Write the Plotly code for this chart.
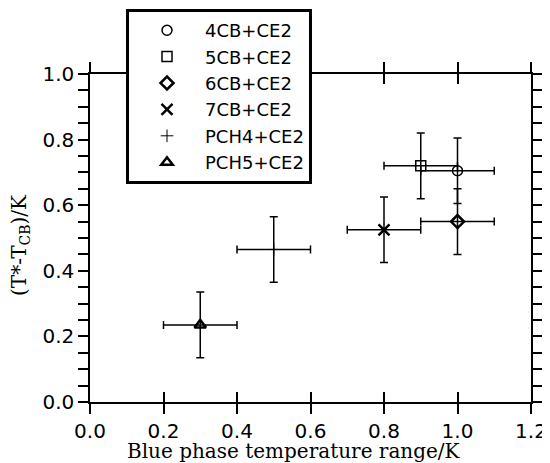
import plotly.graph_objects as go

# ── Data ──────────────────────────────────────────────────────────────────────
mixtures = ["4CB+CE2", "5CB+CE2", "6CB+CE2", "7CB+CE2", "PCH4+CE2", "PCH5+CE2"]
bp_range = [1.0, 0.9, 1.0, 0.8, 0.5, 0.3]          # blue phase temperature range / K
dt_star = [0.705, 0.72, 0.55, 0.525, 0.465, 0.235]  # (T* - Tcb) / K
bp_err = [0.1, 0.1, 0.1, 0.1, 0.1, 0.1]
dt_err = [0.1, 0.1, 0.1, 0.1, 0.1, 0.1]

x_title = "Blue phase temperature range/K"
y_title = "(T*-T<sub>CB</sub>)/K"

# ── Styles ────────────────────────────────────────────────────────────────────
_SYM = {
    "4CB+CE2": ("circle-open", 10, 1.5),
    "5CB+CE2": ("square-open", 10, 1.5),
    "6CB+CE2": ("diamond-open", 10, 2.5),
    "7CB+CE2": ("x-thin-open", 11, 2.5),
    "PCH4+CE2": ("cross-thin-open", 9, 1),
    "PCH5+CE2": ("triangle-up-open", 10, 2.5),
}
_SANS = "DejaVu Sans, Verdana, sans-serif"
_SERIF = "DejaVu Serif, Georgia, serif"

fig = go.Figure()
for i, name in enumerate(mixtures):
    sym, size, lw = _SYM[name]
    fig.add_trace(go.Scatter(
        x=[bp_range[i]], y=[dt_star[i]],
        mode="markers",
        name=name,
        xaxis="x2" if i == 0 else "x",
        marker=dict(symbol=sym, size=size, color="black",
                    line=dict(color="black", width=lw)),
        error_x=dict(type="data", array=[bp_err[i]], color="black", thickness=1.5, width=4),
        error_y=dict(type="data", array=[dt_err[i]], color="black", thickness=1.5, width=4),
    ))

_axis_common = dict(
    showline=True, linecolor="black", linewidth=1.5,
    tickcolor="black", tickwidth=1.5, ticklen=10,
    showgrid=False, zeroline=False, mirror="allticks",
)

# axis titles as annotations so they can sit where the original puts them
fig.add_annotation(
    text=x_title, xref="paper", yref="paper", x=0.463, y=-0.148,
    xanchor="center", yanchor="middle", showarrow=False,
    font=dict(family=_SERIF, size=20, color="black"),
)
fig.add_annotation(
    text=y_title, xref="paper", yref="paper", x=-0.16, y=0.48,
    xanchor="center", yanchor="middle", textangle=-90, showarrow=False,
    font=dict(family=_SERIF, size=20, color="black"),
)

# page body has an 8px margin, so the figure is shrunk/shifted by 8px here
fig.update_layout(
    width=542, height=455,
    margin=dict(l=82, r=19, t=66, b=61, autoexpand=False),
    paper_bgcolor="white", plot_bgcolor="white",
    font=dict(family=_SANS, size=20, color="black"),
    xaxis=dict(
        **_axis_common,
        range=[0, 1.2], tick0=0, dtick=0.2, tickformat=".1f", ticks="outside",
    ),
    xaxis2=dict(
        **_axis_common,
        range=[0, 1.2], tick0=0, dtick=0.2, ticks="inside",
        overlaying="x", matches="x", side="bottom", showticklabels=False,
    ),
    yaxis=dict(
        **_axis_common,
        range=[0, 1.0], tick0=0, dtick=0.2, tickformat=".1f", ticks="outside",
        minor=dict(tick0=0, dtick=0.05, ticks="outside", ticklen=5,
                   tickwidth=1.5, tickcolor="black"),
    ),
    legend=dict(
        x=(126 - 90) / 441, y=(402 - 9) / 328, xanchor="left", yanchor="top",
        bgcolor="white", bordercolor="black", borderwidth=3,
        font=dict(family=_SANS, size=18),
        itemwidth=66, tracegroupgap=0,
        entrywidth=197, entrywidthmode="pixels",
    ),
    showlegend=True,
)

fig.write_html("out.html")
